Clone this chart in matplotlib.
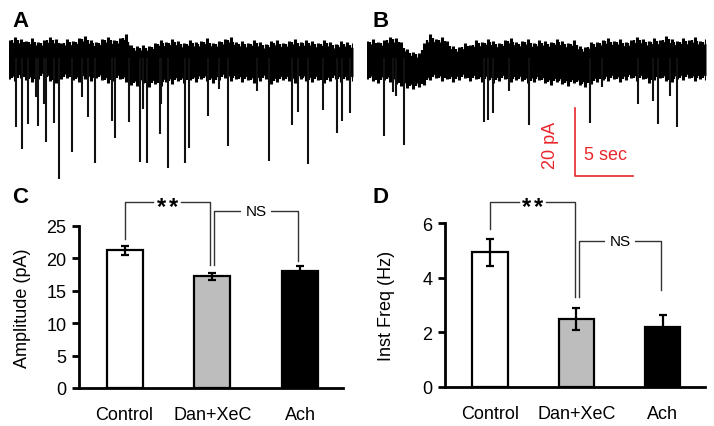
import numpy as np
import matplotlib
matplotlib.use('Agg')
import matplotlib.pyplot as plt

plt.rcParams['font.family'] = ['Liberation Sans', 'DejaVu Sans']

# ---- traces (pA, seconds) ----
A_dur = 29.65
A_top = [5.3, 6.2, 5.6, 5.0, 5.9, 4.7, 5.3, 6.2, 5.6, 4.4,
         5.6, 5.0, 5.9, 6.5, 5.3, 4.7, 5.6, 6.2, 5.3, 5.9,
         7.1, 3.8, 3.5, 3.8, 3.5, 4.4, 5.3, 4.7, 5.6, 5.0,
         4.4, 5.3, 4.7, 5.0, 5.9, 4.4, 5.0, 5.6, 6.2, 4.7,
         5.0, 4.4, 5.3, 4.7, 4.1, 5.0, 5.3, 4.4, 5.0, 5.6,
         4.7, 5.3, 5.0, 4.4, 5.3, 4.7, 4.1, 5.0, 4.7, 4.4]
A_bot = [-6.2, -6.8, -5.9, -6.5, -7.1, -6.2, -5.6, -6.8, -7.4, -6.2,
         -5.9, -6.5, -7.1, -6.2, -6.8, -5.9, -6.5, -7.4, -6.8, -6.2,
         -7.1, -7.9, -8.2, -7.4, -8.5, -7.6, -8.2, -7.1, -7.6, -6.8,
         -7.4, -6.5, -7.1, -6.2, -6.8, -7.4, -6.5, -5.9, -6.8, -6.2,
         -7.1, -6.5, -7.4, -6.8, -6.2, -7.6, -7.1, -6.5, -6.8, -7.4,
         -6.2, -6.8, -7.1, -6.5, -7.4, -6.8, -6.2, -7.1, -6.5, -6.8]
A_event_t = [0.58, 1.15, 1.64, 2.30, 2.47, 3.05, 3.22, 3.91, 4.31, 5.46,
             6.32, 6.81, 7.41, 8.88, 9.14, 10.34, 11.32, 11.55, 11.90, 13.02,
             13.13, 13.71, 15.15, 15.52, 17.18, 18.08, 18.85, 21.41, 22.41, 24.37,
             24.91, 25.75, 27.07, 28.28, 28.73, 29.37]
A_event_amp = [-20.3, -26.8, -19.4, -11.5, -20.0, -13.5, -24.7, -19.1, -35.6, -27.6,
               -11.5, -17.4, -30.9, -18.5, -23.5, -18.8, -30.6, -15.0, -30.9, -22.4,
               -13.5, -32.4, -30.9, -26.5, -17.1, -9.1, -25.9, -9.7, -30.3, -19.7,
               -15.9, -31.2, -15.3, -22.1, -18.5, -16.2]

B_dur = 29.22
B_top = [5.0, 5.6, 4.7, 5.3, 6.2, 5.9, 4.7, 2.6, 1.8, 1.5,
         4.4, 7.1, 5.6, 6.2, 5.0, 3.5, 3.2, 4.4, 3.8, 5.3,
         4.7, 5.6, 5.0, 4.4, 5.3, 5.9, 4.7, 5.0, 5.6, 4.4,
         5.3, 5.0, 4.7, 5.6, 5.0, 4.4, 5.3, 3.5, 3.2, 4.7,
         4.7, 5.3, 5.9, 5.0, 5.6, 4.7, 5.3, 6.2, 5.6, 5.0,
         5.9, 5.3, 6.5, 5.6, 5.0, 5.9, 5.3, 6.2, 5.0, 5.6]
B_bot = [-6.2, -6.8, -7.4, -6.5, -7.1, -7.6, -8.2, -8.8, -9.1, -8.5,
         -7.9, -6.5, -5.9, -6.8, -6.2, -7.1, -6.5, -5.9, -6.8, -6.2,
         -7.1, -6.5, -7.4, -6.8, -6.2, -7.1, -6.5, -6.8, -7.4, -7.1,
         -6.5, -7.4, -7.9, -7.1, -7.6, -8.2, -7.4, -7.9, -8.5, -7.6,
         -7.1, -6.5, -6.8, -6.2, -7.1, -6.5, -5.9, -6.8, -6.2, -7.4,
         -6.5, -5.9, -6.8, -7.1, -6.2, -6.5, -5.9, -6.8, -6.2, -6.5]
B_event_t = [1.47, 2.22, 2.53, 3.19, 10.06, 10.46, 10.86, 12.27, 13.97, 19.25,
             20.23, 23.34, 24.63, 25.06, 26.15, 26.72]
B_event_amp = [-22.9, -10.0, -11.2, -25.6, -18.8, -18.2, -16.2, -9.7, -19.7, -19.1,
               -8.5, -13.5, -12.6, -19.4, -11.2, -20.3]

# ---- bar charts ----
groups = ['Control', 'Dan+XeC', 'Ach']
bar_colors = ['white', '#bdbdbd', 'black']
amp_mean = [21.2, 17.2, 18.0]
amp_err = [0.7, 0.6, 0.75]
freq_mean = [4.93, 2.47, 2.2]
freq_err = [0.5, 0.4, 0.43]

W, H = 714, 427
fig = plt.figure(figsize=(W / 100, H / 100), dpi=100)


def px_axes(left, top, right, bottom):
    return fig.add_axes([left / W, 1 - bottom / H, (right - left) / W, (bottom - top) / H])


def trace(ax, dur, top, bot, ev_t, ev_amp):
    t = np.linspace(0, dur, len(top))
    top = np.array(top)
    bot = np.array(bot)
    # solid core of the noise band, then jagged teeth out to the envelope
    ax.fill_between(t, bot + 1.3, top - 1.3, color='black', lw=0)
    ax.vlines(t, bot, top, color='black', lw=2.2)
    ax.vlines(t[:-1] + dur / len(top) / 2, (bot[:-1] + bot[1:]) / 2 + 0.6,
              (top[:-1] + top[1:]) / 2 - 0.6, color='black', lw=1.6)
    ax.vlines(ev_t, 0, ev_amp, color='#111111', lw=1.5)
    ax.set_xlim(0, dur)
    ax.set_ylim(-37.06, 8.53)
    ax.axis('off')


axA = px_axes(9, 30, 353, 185)
trace(axA, A_dur, A_top, A_bot, A_event_t, A_event_amp)
axB = px_axes(367, 30, 706, 185)
trace(axB, B_dur, B_top, B_bot, B_event_t, B_event_amp)

# scale bar
red = '#e8262b'
axB.plot([17.93, 17.93, 22.93], [-14.7, -34.7, -34.7], color=red, lw=1.2, clip_on=False)
axB.text(15.85, -25.3, '20 pA', color=red, fontsize=13, rotation=90, ha='center', va='center')
axB.text(20.6, -28.5, '5 sec', color=red, fontsize=13, ha='center', va='center')


def bars(ax, means, errs, ymax, ticks, ylabel, lx):
    x = np.arange(len(groups))
    ax.bar(x, means, width=0.41, color=bar_colors, edgecolor='black', linewidth=1.6, zorder=2)
    ax.errorbar(x, means, yerr=errs, fmt='none', ecolor='black', elinewidth=1.6,
                capsize=3.2, capthick=1.6, zorder=3)
    ax.set_xlim(-0.52, 2.49)
    ax.set_ylim(0, ymax)
    for s in ['top', 'right']:
        ax.spines[s].set_visible(False)
    ax.spines['left'].set_bounds(0, ticks[-1])
    ax.spines['left'].set_linewidth(2)
    ax.spines['bottom'].set_linewidth(2)
    ax.set_yticks(ticks)
    ax.set_xticks(x)
    ax.set_xticklabels(groups)
    ax.tick_params(axis='x', length=0, pad=13, labelsize=13)
    ax.tick_params(axis='y', length=5, width=2, pad=4, labelsize=13)
    ax.set_ylabel(ylabel, fontsize=13)
    ax.yaxis.set_label_coords(lx, 0.5 * ticks[-1] / ymax)
    ax.patch.set_visible(False)


def star_bracket(ax, x1, x2, y_top, y1, y2, gap):
    xm = (x1 + x2) / 2
    ax.plot([x1, x1, xm - gap], [y1, y_top, y_top], color='#333333', lw=1, clip_on=False)
    ax.plot([xm + gap, x2, x2], [y_top, y_top, y2], color='#333333', lw=1, clip_on=False)
    for dx in (-4.5, 4.5):
        ax.annotate('*', xy=(xm, y_top), xytext=(dx, -3.5), textcoords='offset points',
                    fontsize=17, fontweight='bold', ha='center', va='center')


def ns_bracket(ax, x1, x2, y_top, y1, y2):
    ax.plot([x1, x1, x2, x2], [y1, y_top, y_top, y2], color='#333333', lw=1, clip_on=False)
    ax.text((x1 + x2) / 2, y_top, 'NS', fontsize=11, ha='center', va='center',
            bbox=dict(fc='white', ec='none', pad=3))


axC = px_axes(79, 195, 343, 389)
bars(axC, amp_mean, amp_err, 29.9, [0, 5, 10, 15, 20, 25], 'Amplitude (pA)', -0.183)
star_bracket(axC, 0, 0.974, 28.7, 23.0, 19.0, 0.16)
ns_bracket(axC, 1.023, 1.977, 27.3, 19.0, 19.6)

axD = px_axes(445, 195, 705, 387.7)
bars(axD, freq_mean, freq_err, 7.07, [0, 2, 4, 6], 'Inst Freq (Hz)', -0.193)
star_bracket(axD, 0.006, 0.983, 6.78, 5.79, 3.29, 0.16)
ns_bracket(axD, 1.029, 1.983, 5.35, 3.29, 3.55)

for lab, px, py in [('A', 12, 27), ('B', 372, 27), ('C', 12, 203), ('D', 372, 203)]:
    fig.text(px / W, 1 - py / H, lab, fontsize=16, fontweight='bold', ha='left', va='baseline')

fig.savefig('out.png', dpi=100)
